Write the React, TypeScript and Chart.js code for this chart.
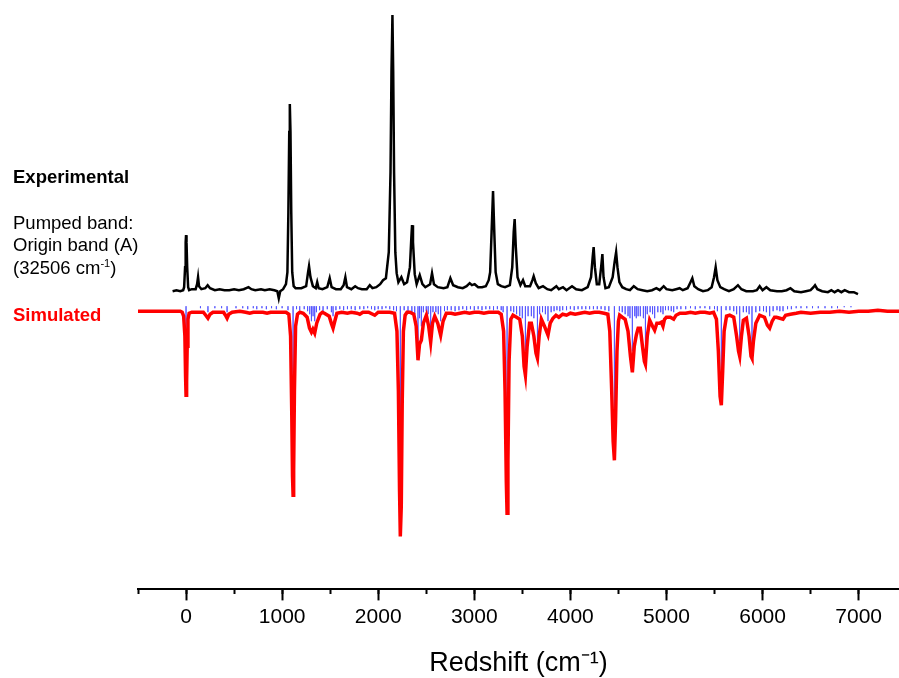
import React, { useEffect, useRef } from 'react';
import { Chart, registerables } from 'chart.js';

Chart.register(...registerables);

// Experimental spectrum: redshift (cm-1) and intensity above its own baseline (a.u.)
const expShift = [-140,-100,-60,-30,-20,-10,-4,0,5,12,22,32,60,100,115,125,135,160,200,225,250,300,350,400,450,500,550,600,650,680,720,780,820,870,920,950,965,980,1010,1040,1055,1065,1074,1080,1087,1095,1105,1120,1140,1200,1250,1270,1280,1295,1320,1350,1365,1380,1420,1470,1495,1515,1560,1610,1640,1658,1675,1720,1760,1790,1830,1880,1912,1940,1980,2020,2050,2080,2110,2128,2138,2148,2156,2165,2178,2192,2210,2241,2270,2300,2330,2345,2352,2362,2380,2400,2432,2460,2490,2540,2560,2580,2620,2680,2720,2751,2780,2830,2880,2920,2952,2975,3004,3040,3080,3120,3150,3165,3180,3195,3208,3222,3245,3280,3320,3370,3395,3410,3420,3432,3450,3480,3507,3530,3580,3605,3618,3640,3670,3715,3760,3800,3854,3880,3923,3960,4017,4060,4120,4180,4215,4232,4242,4255,4275,4300,4320,4333,4345,4365,4400,4440,4460,4476,4490,4510,4540,4580,4620,4660,4700,4750,4800,4850,4895,4930,4971,5000,5060,5100,5137,5170,5220,5250,5269,5290,5330,5380,5430,5470,5495,5512,5530,5560,5600,5650,5700,5744,5780,5830,5900,5940,5970,6000,6040,6080,6150,6200,6250,6290,6330,6400,6450,6500,6530,6546,6570,6620,6680,6716,6750,6785,6820,6855,6900,6950,6993];
const expIntensity = [1,2,1,2,5,25,50,57,50,25,5,2,3,3,8,15,6,3,4,7,4,2,3,2,2,3,2,3,5,3,2,3,2,3,2,1,-6,1,3,8,20,80,160,188,160,80,20,6,4,4,6,20,26,15,6,4,10,4,3,5,14,5,3,3,7,15,5,3,6,4,3,3,7,4,5,8,12,14,40,120,220,277,220,120,40,19,10,15,8,10,25,55,67,50,18,8,17,8,5,8,19,8,5,4,5,14,7,5,4,6,9,7,8,5,5,6,12,20,60,101,60,20,8,6,5,7,25,60,73,45,15,7,12,6,6,12,16,9,4,6,3,2,6,3,5,2,6,3,2,5,15,35,45,25,8,8,25,38,15,4,5,15,30,40,25,10,5,3,2,6,3,2,1,2,4,2,6,3,2,3,4,2,4,10,14,6,3,1,2,5,15,25,12,5,3,1,3,7,3,1,1,2,6,2,5,2,1,1,2,4,1,0,1,2,5,7,3,1,0,2,0,2,0,2,0,0,-2];

// Simulated spectrum (drawn downward)
const simShift = [-500,-60,-40,-25,-12,-5,0,6,12,20,32,60,180,205,228,250,280,390,410,427,445,480,560,620,663,700,760,800,843,880,950,1040,1070,1088,1100,1108,1114,1120,1128,1140,1160,1185,1220,1260,1285,1305,1320,1339,1360,1395,1419,1440,1490,1515,1530,1548,1570,1620,1680,1720,1780,1808,1840,1900,1964,2000,2060,2120,2170,2195,2210,2222,2230,2240,2250,2262,2280,2300,2330,2370,2395,2414,2430,2449,2470,2501,2525,2546,2565,2588,2620,2650,2675,2709,2760,2800,2850,2900,2950,3000,3050,3100,3150,3200,3250,3280,3305,3320,3333,3341,3350,3362,3380,3403,3440,3473,3500,3518,3532,3550,3575,3594,3620,3642,3657,3675,3698,3730,3767,3790,3819,3850,3880,3920,3960,4000,4050,4100,4150,4200,4250,4300,4350,4390,4410,4430,4445,4458,4470,4485,4500,4513,4540,4570,4600,4625,4645,4665,4686,4705,4728,4750,4770,4781,4800,4825,4855,4877,4900,4925,4947,4964,4980,4999,5040,5075,5100,5140,5200,5250,5300,5350,5400,5450,5490,5520,5540,5558,5571,5585,5600,5625,5658,5700,5730,5750,5762,5780,5800,5832,5860,5880,5890,5905,5930,5970,6020,6050,6074,6100,6125,6144,6180,6213,6240,6290,6350,6400,6500,6600,6700,6800,6900,7000,7100,7200,7300,7420];
const simIntensity = [0,0,-1,-5,-25,-65,-84,-70,-35,-8,-2,-1,-1,-4,-7,-3,-1,-1,-4,-7,-3,-1,0,-1,-2,-1,-1,-1,-2,-1,-1,-1,-3,-25,-100,-165,-184,-160,-80,-15,-3,-1,-2,-6,-17,-21,-18,-22,-12,-3,-1,-2,-5,-13,-17,-10,-2,-1,-2,-1,-2,-3,-1,-1,-4,-1,-1,-1,-2,-20,-80,-180,-225,-195,-90,-20,-4,-1,-1,-3,-15,-49,-33,-29,-12,-4,-15,-31,-12,-5,-12,-24,-10,-2,-2,-3,-2,-1,-2,-1,-1,-2,-1,-1,-1,-3,-20,-80,-170,-202,-150,-50,-8,-4,-6,-8,-25,-55,-64,-35,-12,-12,-25,-42,-47,-25,-8,-15,-24,-12,-7,-4,-6,-3,-4,-2,-3,-2,-1,-2,-1,-1,-2,-3,-20,-80,-130,-149,-110,-40,-10,-4,-6,-8,-20,-45,-61,-35,-24,-17,-17,-35,-50,-53,-25,-9,-15,-19,-12,-12,-11,-15,-8,-6,-6,-8,-4,-2,-2,-1,-2,-1,-1,-2,-1,-8,-40,-85,-94,-60,-20,-5,-4,-6,-25,-40,-45,-25,-9,-7,-25,-45,-47,-30,-12,-4,-6,-14,-17,-10,-6,-6,-7,-8,-4,-3,-2,-1,-2,-1,-1,0,-1,0,0,1,0,0];

// Simulated stick spectrum: positions (cm-1) and stick lengths (a.u.)
const stickShift = [0,150,228,300,370,427,520,590,642,700,736,790,836,890,940,1000,1061,1114,1150,1183,1230,1265,1287,1305,1322,1339,1357,1390,1426,1470,1513,1530,1560,1600,1640,1680,1720,1760,1808,1850,1890,1930,1964,2000,2040,2080,2120,2160,2190,2230,2270,2310,2350,2380,2414,2430,2449,2470,2500,2520,2546,2570,2600,2625,2650,2690,2720,2760,2800,2840,2880,2920,2960,3000,3040,3080,3120,3160,3200,3240,3280,3300,3341,3380,3410,3440,3473,3500,3532,3560,3594,3620,3657,3680,3710,3740,3767,3800,3830,3860,3890,3920,3960,4000,4040,4080,4120,4160,4200,4240,4280,4320,4360,4400,4458,4510,4540,4570,4600,4620,4645,4670,4686,4705,4728,4760,4781,4800,4830,4855,4877,4910,4940,4964,4990,5020,5050,5075,5110,5150,5200,5250,5300,5350,5400,5450,5500,5530,5571,5620,5660,5700,5730,5762,5800,5832,5860,5890,5930,5970,6010,6040,6074,6110,6150,6180,6213,6260,6300,6350,6400,6460,6520,6580,6650,6720,6780,6850,6920];
const stickDepth = [64,2,6,2,2,6,2,2,3,2,3,2,3,2,3,2,4,131,3,4,3,5,8,15,10,15,6,4,5,3,6,10,4,3,4,3,3,4,3,3,2,3,4,3,3,2,3,4,5,171,4,5,6,8,35,12,20,6,5,8,25,6,6,8,15,5,4,4,5,4,3,4,3,4,3,4,3,3,4,3,4,6,151,5,6,8,10,12,45,10,10,12,35,8,6,8,15,6,5,4,5,4,4,3,4,3,3,3,3,3,3,3,4,5,111,5,6,8,10,12,45,10,12,10,10,12,40,8,6,8,12,6,6,8,4,4,5,6,3,3,3,2,3,2,2,3,3,5,71,4,4,5,8,35,6,6,8,37,6,5,5,6,10,5,4,5,5,3,3,2,2,2,2,2,2,2,2,1,1];

// Axis ticks
const majorTicks = [0, 1000, 2000, 3000, 4000, 5000, 6000, 7000];
const minorTicks = [-500, 0, 500, 1000, 1500, 2000, 2500, 3000, 3500, 4000, 4500, 5000, 5500, 6000, 6500, 7000];

const EXP_OFFSET = 19;   // vertical offset of the experimental trace
const STICK_TOP = 5;     // top of the stick spectrum
const X_MIN = -500;
const X_MAX = 7420;
const Y_MIN = -278;
const Y_MAX = 311;

export default function App() {
  const canvasRef = useRef<HTMLCanvasElement | null>(null);

  useEffect(() => {
    const canvas = canvasRef.current;
    if (!canvas) return;

    const expData = expShift.map((x, i) => ({ x, y: expIntensity[i] + EXP_OFFSET }));
    const simData = simShift.map((x, i) => ({ x, y: simIntensity[i] }));
    const stickData: { x: number; y: number | null }[] = [];
    stickShift.forEach((x, i) => {
      stickData.push({ x, y: STICK_TOP });
      stickData.push({ x, y: STICK_TOP - stickDepth[i] });
      stickData.push({ x, y: null });
    });

    const chart = new Chart(canvas, {
      type: 'line',
      data: {
        datasets: [
          {
            label: 'Simulated',
            data: simData,
            borderColor: '#ff0000',
            borderWidth: 3.5,
            pointRadius: 0,
            tension: 0,
          },
          {
            label: 'Sticks',
            data: stickData as any,
            borderColor: 'rgba(70,70,255,0.6)',
            borderWidth: 1,
            pointRadius: 0,
            spanGaps: false,
            tension: 0,
          },
          {
            label: 'Experimental',
            data: expData,
            borderColor: '#000000',
            borderWidth: 2.5,
            pointRadius: 0,
            tension: 0,
          },
        ],
      },
      options: {
        responsive: false,
        animation: false,
        devicePixelRatio: 1,
        layout: { padding: { left: 138, right: 0, top: 0, bottom: 0 } },
        plugins: {
          legend: { display: false },
          tooltip: { enabled: false },
        },
        scales: {
          x: {
            type: 'linear',
            position: 'bottom',
            min: X_MIN,
            max: X_MAX,
            afterBuildTicks: (scale: any) => {
              scale.ticks = majorTicks.map((v) => ({ value: v }));
            },
            border: { display: true, color: '#000', width: 2 },
            grid: { drawOnChartArea: false, drawTicks: true, tickLength: 11, tickWidth: 2, tickColor: '#000' },
            ticks: {
              autoSkip: false,
              maxRotation: 0,
              padding: 4,
              color: '#000',
              font: { family: "'Liberation Sans', Arial, sans-serif", size: 21 },
              callback: (v: any) => String(v),
            },
            title: {
              display: true,
              text: 'Redshift (cm\u207B\u00B9)',
              color: '#000',
              font: { family: "'Liberation Sans', Arial, sans-serif", size: 27 },
              padding: { top: 14, bottom: -2 },
            },
          },
          x2: {
            type: 'linear',
            position: { y: Y_MIN } as any,
            min: X_MIN,
            max: X_MAX,
            afterBuildTicks: (scale: any) => {
              scale.ticks = minorTicks.map((v) => ({ value: v }));
            },
            border: { display: false },
            grid: { drawOnChartArea: false, drawTicks: true, tickLength: 5, tickWidth: 2, tickColor: '#000' },
            ticks: { display: false },
          },
          y: {
            type: 'linear',
            display: false,
            min: Y_MIN,
            max: Y_MAX,
          },
        },
      },
    });

    return () => chart.destroy();
  }, []);

  const textFont = "'Liberation Sans', Arial, sans-serif";

  return (
    <div style={{ position: 'fixed', left: 0, top: 0, width: 899, height: 678, background: '#fff' }}>
      <canvas ref={canvasRef} width={899} height={678} style={{ position: 'absolute', left: 0, top: 0 }} />
      <div style={{ position: 'absolute', left: 13, top: 165, fontFamily: textFont, fontSize: 18.5, lineHeight: '23px', fontWeight: 'bold', color: '#000', whiteSpace: 'nowrap' }}>
        Experimental
      </div>
      <div style={{ position: 'absolute', left: 13, top: 211.8, fontFamily: textFont, fontSize: 18.5, lineHeight: '22.5px', color: '#000', whiteSpace: 'nowrap' }}>
        <div>Pumped band:</div>
        <div>Origin band (A)</div>
        <div>
          (32506 cm<sup style={{ fontSize: '0.6em', lineHeight: 0, verticalAlign: 'super' }}>-1</sup>)
        </div>
      </div>
      <div style={{ position: 'absolute', left: 13, top: 303.2, fontFamily: textFont, fontSize: 18.5, lineHeight: '23px', fontWeight: 'bold', color: '#ff0000', whiteSpace: 'nowrap' }}>
        Simulated
      </div>
    </div>
  );
}
